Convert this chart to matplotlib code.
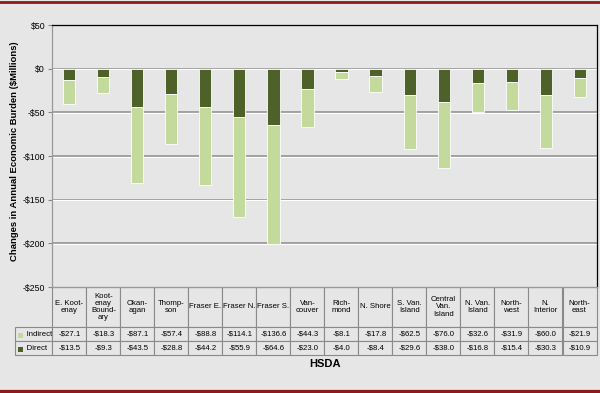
import matplotlib.pyplot as plt
import matplotlib.patches as mpatches
import numpy as np

plt.rcParams['font.family'] = ['Liberation Sans', 'DejaVu Sans']

categories = ["E. Koot-\nenay", "Koot-\nenay\nBound-\nary", "Okan-\nagan", "Thomp-\nson",
              "Fraser E.", "Fraser N.", "Fraser S.", "Van-\ncouver", "Rich-\nmond",
              "N. Shore", "S. Van.\nIsland", "Central\nVan.\nIsland", "N. Van.\nIsland",
              "North-\nwest", "N.\nInterior", "North-\neast"]
indirect = [-27.1, -18.3, -87.1, -57.4, -88.8, -114.1, -136.6, -44.3, -8.1,
            -17.8, -62.5, -76.0, -32.6, -31.9, -60.0, -21.9]
direct = [-13.5, -9.3, -43.5, -28.8, -44.2, -55.9, -64.6, -23.0, -4.0,
          -8.4, -29.6, -38.0, -16.8, -15.4, -30.3, -10.9]
yticks = [50, 0, -50, -100, -150, -200, -250]

BG = "#e6e6e6"
LIGHT = "#c4da9c"
DARK = "#4d6129"
RED = "#8b1a1a"


def money(v):
    return "-$%.1f" % abs(v) if v < 0 else "$%.1f" % v


def main():
    W, H = 600, 393
    fig = plt.figure(figsize=(6, 3.93), dpi=100, facecolor=BG)

    left, right, top, bot = 52, 597, 25, 287
    pw = right - left
    ph = bot - top
    ax = fig.add_axes([left / W, 1 - bot / H, pw / W, ph / H])
    ax.set_facecolor(BG)

    x = np.arange(len(categories))
    ax.bar(x, direct, width=0.36, color=DARK, edgecolor="white", linewidth=0.6, zorder=3)
    ax.bar(x, indirect, width=0.36, bottom=direct, color=LIGHT, edgecolor="white",
           linewidth=0.6, zorder=3)

    ax.set_xlim(-0.5, len(categories) - 0.5)
    ax.set_ylim(-250, 50)
    ax.set_yticks(yticks)
    ax.set_yticklabels(["$%d" % v if v >= 0 else "-$%d" % abs(v) for v in yticks], fontsize=6.3)
    ax.tick_params(axis="y", length=3, width=0.8, color="#888888", pad=2)
    ax.set_xticks([])
    for v in yticks[1:-1]:
        ax.axhline(v, color="#8c8c8c", linewidth=1.1, zorder=1)
        ax.axhline(v - 0.9, color="white", linewidth=0.8, zorder=1)

    ax.spines["top"].set_color("black")
    ax.spines["right"].set_color("black")
    ax.spines["left"].set_color("#999999")
    ax.spines["bottom"].set_color("#999999")
    for s in ax.spines.values():
        s.set_linewidth(0.9)

    ax.set_ylabel("Changes in Annual Economic Burden ($Millions)", fontsize=6.8,
                  fontweight="bold")
    ax.yaxis.set_label_coords((19 - left) / pw, 0.52)

    # table under the plot
    cell_text = [[money(v) for v in indirect], [money(v) for v in direct]]
    tbl = ax.table(cellText=cell_text, rowLabels=["     Indirect", "     Direct"],
                   colLabels=categories, cellLoc="center", rowLoc="left", loc="bottom")
    tbl._autoColumns.clear()
    tbl.auto_set_font_size(False)
    tbl.set_fontsize(5.6)
    for (r, c), cell in tbl.get_celld().items():
        cell.set_facecolor(BG)
        cell.set_edgecolor("#8a8a8a")
        cell.set_linewidth(0.8)
        cell.set_width((37.0 if c == -1 else 34.0) / pw)
        cell.set_height((40.0 if r == 0 else 14.0) / ph)
        cell.PAD = 0.02
        if r == 0:
            cell.get_text().set_linespacing(1.05)

    # legend squares in the row labels
    for i, col in enumerate([LIGHT, DARK]):
        yc = 328 + 14 * i + 7
        fig.patches.append(mpatches.Rectangle((18 / W, 1 - (yc + 2.5) / H),
                                              5 / W, 5 / H, transform=fig.transFigure,
                                              facecolor=col, edgecolor="none", zorder=5))

    fig.text(325 / W, 1 - 364 / H, "HSDA", ha="center", va="center",
             fontsize=8, fontweight="bold")

    # red rules top and bottom
    fig.add_artist(plt.Line2D([0, 1], [1 - 1.5 / H, 1 - 1.5 / H], color=RED,
                              linewidth=2, transform=fig.transFigure))
    fig.add_artist(plt.Line2D([0, 1], [1 - 388.5 / H, 1 - 388.5 / H], color="white",
                              linewidth=1, transform=fig.transFigure))
    fig.add_artist(plt.Line2D([0, 1], [1 - 391 / H, 1 - 391 / H], color=RED,
                              linewidth=2.5, transform=fig.transFigure))

    fig.savefig("out.png", dpi=100, facecolor=BG)


if __name__ == "__main__":
    main()
